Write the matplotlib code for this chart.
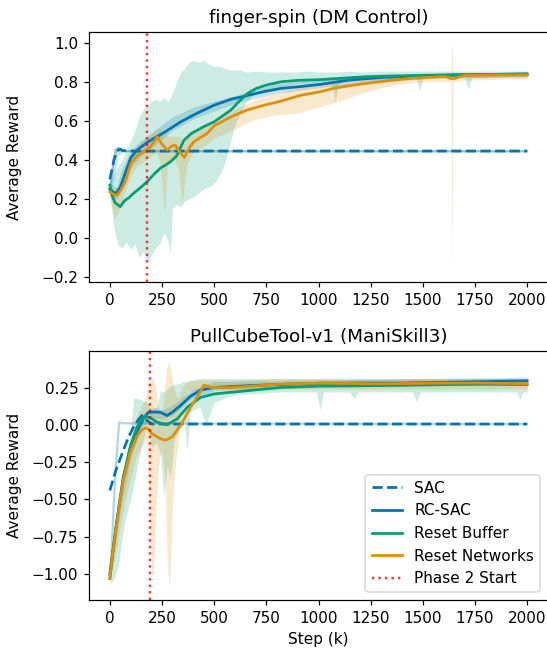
import matplotlib
matplotlib.use("Agg")
import matplotlib.pyplot as plt

# colours (seaborn colorblind)
c_sac = "#0173b2"
c_rb = "#029e73"
c_rn = "#de8f05"

# ---------------- finger-spin (DM Control) ----------------
fs_phase2 = 180

fs_sac_x = [0, 10, 20, 30, 40, 50, 60, 80, 2000]
fs_sac_y = [0.30, 0.35, 0.40, 0.43, 0.45, 0.455, 0.448, 0.445, 0.445]
fs_sac_raw_x = [0, 10, 20, 30, 40, 60, 2000]
fs_sac_raw_y = [0.25, 0.33, 0.41, 0.45, 0.46, 0.445, 0.445]
fs_sac_band_x = [0, 20, 40, 60, 2000]
fs_sac_lo = [0.22, 0.30, 0.42, 0.44, 0.44]
fs_sac_hi = [0.30, 0.46, 0.47, 0.45, 0.45]

fs_rc_x = [0, 15, 30, 50, 70, 100, 130, 180, 260, 340, 420, 500, 580, 660,
           740, 820, 910, 1010, 1150, 1300, 1400, 1630, 1800, 2000]
fs_rc_y = [0.25, 0.235, 0.228, 0.26, 0.32, 0.41, 0.45, 0.49, 0.54, 0.595,
           0.64, 0.68, 0.71, 0.73, 0.75, 0.766, 0.775, 0.787, 0.809, 0.822,
           0.826, 0.834, 0.837, 0.839]
fs_rc_band_x = [0, 30, 60, 100, 150, 200, 300, 400, 600, 800, 1000, 1300, 1600, 2000]
fs_rc_lo = [0.22, 0.20, 0.25, 0.36, 0.42, 0.46, 0.55, 0.61, 0.69, 0.74, 0.77, 0.80, 0.82, 0.825]
fs_rc_hi = [0.28, 0.26, 0.36, 0.45, 0.50, 0.54, 0.62, 0.67, 0.73, 0.79, 0.81, 0.84, 0.845, 0.85]

fs_rb_x = [0, 10, 25, 50, 70, 90, 115, 150, 180, 215, 245, 270, 290, 320, 355,
           390, 450, 500, 540, 580, 620, 660, 700, 750, 820, 900, 1010, 1230, 1550, 2000]
fs_rb_y = [0.27, 0.22, 0.18, 0.16, 0.19, 0.205, 0.23, 0.26, 0.29, 0.33, 0.36,
           0.375, 0.39, 0.42, 0.50, 0.535, 0.57, 0.595, 0.625, 0.655, 0.70,
           0.74, 0.765, 0.783, 0.80, 0.807, 0.811, 0.826, 0.834, 0.84]
fs_rb_band_x = [0, 20, 40, 60, 80, 100, 120, 140, 160, 180, 200, 220, 240, 260,
                280, 290, 300, 320, 340, 360, 380, 400, 425, 450, 475, 500, 525,
                550, 575, 600, 625, 650, 675, 700, 750, 800, 850, 900, 950, 1000,
                1060, 1080, 1100, 1150, 1200, 1300, 1400, 1470, 1485, 1500, 1600,
                1700, 1718, 1735, 1800, 1900, 2000]
fs_rb_lo = [0.22, 0.05, -0.04, -0.05, -0.02, -0.06, -0.03, -0.10, -0.07, -0.12,
            -0.09, -0.05, -0.03, 0.03, -0.02, -0.08, 0.15, 0.17, 0.16, 0.19, 0.20,
            0.21, 0.23, 0.25, 0.26, 0.28, 0.32, 0.38, 0.48, 0.58, 0.64, 0.69, 0.72,
            0.74, 0.76, 0.77, 0.78, 0.79, 0.79, 0.80, 0.80, 0.70, 0.80, 0.81, 0.81,
            0.81, 0.82, 0.82, 0.75, 0.82, 0.82, 0.82, 0.76, 0.82, 0.82, 0.825, 0.825]
fs_rb_hi = [0.29, 0.33, 0.37, 0.40, 0.45, 0.50, 0.55, 0.62, 0.66, 0.68, 0.70,
            0.71, 0.70, 0.72, 0.70, 0.72, 0.74, 0.80, 0.85, 0.87, 0.90, 0.91, 0.90,
            0.91, 0.89, 0.88, 0.88, 0.87, 0.86, 0.86, 0.86, 0.85, 0.85, 0.855, 0.85,
            0.85, 0.85, 0.85, 0.855, 0.85, 0.85, 0.85, 0.85, 0.855, 0.85, 0.855,
            0.855, 0.855, 0.855, 0.855, 0.855, 0.855, 0.855, 0.855, 0.855, 0.855, 0.855]

fs_rn_x = [0, 15, 35, 55, 75, 100, 130, 160, 195, 227, 250, 275, 295, 314, 335,
           357, 380, 402, 435, 466, 500, 580, 657, 740, 817, 912, 1008, 1072, 1150,
           1231, 1330, 1439, 1583, 1610, 1630, 1650, 1665, 1700, 1800, 2000]
fs_rn_y = [0.236, 0.225, 0.219, 0.25, 0.29, 0.38, 0.42, 0.44, 0.467, 0.518, 0.48,
           0.45, 0.47, 0.475, 0.44, 0.412, 0.46, 0.492, 0.515, 0.535, 0.575, 0.62,
           0.655, 0.68, 0.70, 0.73, 0.749, 0.766, 0.78, 0.792, 0.805, 0.817, 0.826,
           0.826, 0.818, 0.815, 0.822, 0.833, 0.834, 0.835]
fs_rn_band_x = [0, 20, 40, 60, 80, 100, 130, 160, 190, 220, 240, 255, 265, 275,
                290, 310, 330, 345, 355, 370, 400, 450, 500, 600, 700, 800, 900,
                1000, 1100, 1200, 1300, 1400, 1500, 1600, 1635, 1640, 1645, 1700,
                1800, 1900, 2000]
fs_rn_lo = [0.21, 0.10, 0.13, 0.20, 0.26, 0.32, 0.37, 0.39, 0.41, 0.44, 0.40,
            0.20, 0.125, 0.38, 0.40, 0.40, 0.35, 0.17, 0.25, 0.38, 0.44, 0.47,
            0.51, 0.56, 0.61, 0.63, 0.64, 0.67, 0.70, 0.74, 0.77, 0.79, 0.80,
            0.80, 0.80, -0.17, 0.80, 0.81, 0.81, 0.815, 0.815]
fs_rn_hi = [0.26, 0.25, 0.26, 0.30, 0.36, 0.42, 0.47, 0.50, 0.52, 0.55, 0.56,
            0.55, 0.54, 0.52, 0.52, 0.52, 0.52, 0.50, 0.48, 0.52, 0.54, 0.57,
            0.60, 0.66, 0.71, 0.74, 0.77, 0.79, 0.81, 0.82, 0.83, 0.835, 0.84,
            0.84, 0.84, 1.00, 0.84, 0.845, 0.845, 0.845, 0.845]

# ---------------- PullCubeTool-v1 (ManiSkill3) ----------------
pc_phase2 = 190

pc_sac_x = [0, 30, 65, 90, 113, 135, 153, 177, 202, 240, 2000]
pc_sac_y = [-0.44, -0.30, -0.17, -0.08, -0.016, 0.03, 0.062, 0.03, 0.005,
            0.005, 0.005]
pc_sac_raw_x = [0, 8, 20, 30, 45, 60, 2000]
pc_sac_raw_y = [-1.0, -0.86, -0.5, -0.25, 0.018, 0.01, 0.005]

pc_rc_x = [0, 32, 65, 97, 129, 160, 185, 215, 242, 274, 300, 339, 385, 435,
           500, 657, 800, 1008, 1200, 1400, 1600, 1800, 2000]
pc_rc_y = [-1.0, -0.66, -0.35, -0.17, -0.05, 0.04, 0.084, 0.086, 0.084, 0.062,
           0.085, 0.13, 0.19, 0.233, 0.25, 0.262, 0.27, 0.279, 0.28, 0.28,
           0.285, 0.29, 0.295]
pc_rc_band_x = [0, 50, 100, 150, 200, 250, 300, 400, 500, 1000, 2000]
pc_rc_lo = [-1.03, -0.58, -0.22, -0.02, 0.05, 0.04, 0.06, 0.18, 0.23, 0.25, 0.27]
pc_rc_hi = [-0.97, -0.45, -0.12, 0.07, 0.12, 0.10, 0.13, 0.24, 0.29, 0.30, 0.32]

pc_rb_x = [0, 32, 65, 97, 129, 150, 169, 194, 226, 274, 323, 371, 435, 500,
           661, 823, 1008, 1200, 1400, 1600, 1800, 2000]
pc_rb_y = [-1.03, -0.66, -0.35, -0.15, -0.02, 0.03, 0.056, 0.047, 0.018, 0.0,
           0.04, 0.118, 0.184, 0.207, 0.229, 0.251, 0.26, 0.262, 0.265, 0.27,
           0.272, 0.27]
pc_rb_band_x = [0, 19, 40, 67, 99, 115, 147, 179, 200, 225, 243, 259, 275, 290,
                310, 338, 355, 370, 385, 400, 430, 460, 500, 550, 600, 700, 800,
                990, 1008, 1025, 1150, 1170, 1190, 1300, 1450, 1470, 1490, 1700,
                1900, 1950, 1965, 1980, 2000]
pc_rb_lo = [-1.06, -1.04, -0.95, -0.68, -0.50, -0.40, -0.17, -0.01, -0.15,
            -0.12, -0.20, -0.48, -0.28, -0.35, -0.10, -0.01, 0.05, -0.17, 0.08,
            0.10, 0.12, 0.00, 0.15, 0.18, 0.20, 0.21, 0.22, 0.22, 0.10, 0.22,
            0.22, 0.17, 0.22, 0.22, 0.22, 0.155, 0.22, 0.22, 0.22, 0.22, 0.17,
            0.22, 0.22]
pc_rb_hi = [-1.00, -0.86, -0.62, -0.41, -0.05, 0.18, 0.17, 0.15, 0.10, 0.12,
            0.23, 0.22, 0.24, 0.26, 0.27, 0.28, 0.29, 0.29, 0.30, 0.30, 0.31,
            0.31, 0.31, 0.31, 0.31, 0.31, 0.31, 0.31, 0.31, 0.31, 0.31, 0.31,
            0.31, 0.31, 0.31, 0.31, 0.31, 0.31, 0.31, 0.31, 0.31, 0.31, 0.31]

pc_rn_x = [0, 12, 32, 50, 65, 97, 129, 150, 169, 185, 202, 242, 266, 298, 339,
           387, 427, 452, 484, 581, 823, 1008, 1300, 1600, 1800, 2000]
pc_rn_y = [-1.03, -0.88, -0.68, -0.50, -0.37, -0.19, -0.08, -0.04, -0.02,
           -0.03, -0.06, -0.093, -0.104, -0.082, -0.004, 0.118, 0.207, 0.267,
           0.25, 0.25, 0.273, 0.28, 0.275, 0.28, 0.28, 0.275]
pc_rn_band_x = [0, 25, 50, 75, 100, 125, 150, 175, 185, 195, 205, 215, 225, 235,
                250, 265, 275, 285, 292, 300, 315, 330, 345, 370, 400, 450, 500,
                600, 800, 1000, 1200, 1400, 1600, 1800, 2000]
pc_rn_lo = [-1.05, -0.88, -0.68, -0.50, -0.36, -0.22, -0.15, -0.10, -0.40,
            -0.80, -1.08, -0.80, -0.45, -0.25, -0.15, -0.40, -0.90, -1.10, -0.90,
            -0.55, -0.25, -0.10, 0.15, 0.22, 0.23, 0.24, 0.24, 0.24, 0.24, 0.24,
            0.24, 0.24, 0.24, 0.24, 0.24]
pc_rn_hi = [-1.00, -0.70, -0.45, -0.28, -0.10, 0.05, 0.12, 0.20, 0.30, 0.29,
            0.31, 0.28, 0.20, 0.10, 0.05, 0.30, 0.40, 0.42, 0.38, 0.30, 0.20,
            0.18, 0.25, 0.29, 0.30, 0.30, 0.30, 0.30, 0.31, 0.31, 0.31, 0.31,
            0.31, 0.31, 0.31]

xticks = [0, 250, 500, 750, 1000, 1250, 1500, 1750, 2000]


def draw_panel(ax, d, title, phase2, ylim):
    # shaded bands first, smoothed curves on top
    for bx, lo, hi, c in d["bands"]:
        ax.fill_between(bx, lo, hi, color=c, alpha=0.2, lw=0)
    ax.plot(d["sac_raw"][0], d["sac_raw"][1], color=c_sac, alpha=0.3, lw=1.5)
    ax.plot(d["sac"][0], d["sac"][1], color=c_sac, ls="--", lw=1.8, label="SAC")
    ax.plot(d["rc"][0], d["rc"][1], color=c_sac, lw=1.8, label="RC-SAC")
    ax.plot(d["rb"][0], d["rb"][1], color=c_rb, lw=1.8, label="Reset Buffer")
    ax.plot(d["rn"][0], d["rn"][1], color=c_rn, lw=1.8, label="Reset Networks")
    ax.axvline(phase2, color="red", ls=":", lw=1.6, alpha=0.8, label="Phase 2 Start")
    ax.set_title(title)
    ax.set_ylabel("Average Reward")
    ax.yaxis.set_label_coords(-0.147, 0.5)
    ax.set_xlim(-100, 2100)
    ax.set_ylim(*ylim)
    ax.set_xticks(xticks)


W, H, dpi = 547, 650, 110
fig = plt.figure(figsize=(W / dpi, H / dpi), dpi=dpi)
ax1 = fig.add_axes([89 / W, 1 - 282 / H, 459 / W, 250 / H])
ax2 = fig.add_axes([89 / W, 1 - 600 / H, 459 / W, 249 / H])

fs = {
    "bands": [
        (fs_sac_band_x, fs_sac_lo, fs_sac_hi, c_sac),
        (fs_rc_band_x, fs_rc_lo, fs_rc_hi, c_sac),
        (fs_rb_band_x, fs_rb_lo, fs_rb_hi, c_rb),
        (fs_rn_band_x, fs_rn_lo, fs_rn_hi, c_rn),
    ],
    "sac_raw": (fs_sac_raw_x, fs_sac_raw_y),
    "sac": (fs_sac_x, fs_sac_y),
    "rc": (fs_rc_x, fs_rc_y),
    "rb": (fs_rb_x, fs_rb_y),
    "rn": (fs_rn_x, fs_rn_y),
}
pc = {
    "bands": [
        (pc_rc_band_x, pc_rc_lo, pc_rc_hi, c_sac),
        (pc_rb_band_x, pc_rb_lo, pc_rb_hi, c_rb),
        (pc_rn_band_x, pc_rn_lo, pc_rn_hi, c_rn),
    ],
    "sac_raw": (pc_sac_raw_x, pc_sac_raw_y),
    "sac": (pc_sac_x, pc_sac_y),
    "rc": (pc_rc_x, pc_rc_y),
    "rb": (pc_rb_x, pc_rb_y),
    "rn": (pc_rn_x, pc_rn_y),
}

draw_panel(ax1, fs, "finger-spin (DM Control)", fs_phase2, (-0.226, 1.055))
draw_panel(ax2, pc, "PullCubeTool-v1 (ManiSkill3)", pc_phase2, (-1.175, 0.495))
ax2.set_xlabel("Step (k)")
ax2.legend(loc="lower right")

fig.savefig("out.png", dpi=dpi)
